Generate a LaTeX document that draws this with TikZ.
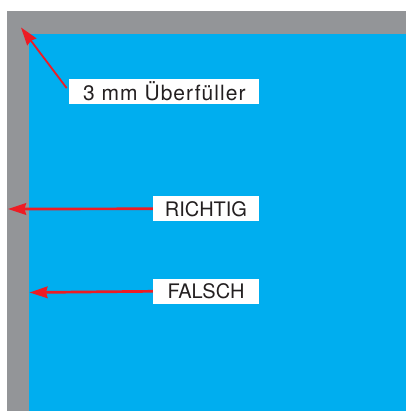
\documentclass[tikz,border=0pt]{standalone}
\usepackage{fontspec}
\setmainfont{TeX Gyre Heros}
\usetikzlibrary{arrows.meta}
\definecolor{falzgrau}{HTML}{939598}
\definecolor{cyanblau}{HTML}{00AEEF}
\definecolor{pfeilrot}{HTML}{ED1C24}
\definecolor{schrift}{HTML}{231F20}
\tikzset{
  lbl/.style={fill=white,text=schrift,inner sep=0pt,minimum height=25pt,
    font=\fontsize{20}{24}\selectfont},
  pfeil/.style={draw=pfeilrot,line width=2.7pt,
    -{Stealth[length=18pt,width=11.5pt,inset=1.5pt]}},
}
\begin{document}
\begin{tikzpicture}[x=1pt,y=-1pt]
\useasboundingbox (0,0) rectangle (406,411);
\fill[falzgrau] (7,11) rectangle (406,411);
\fill[cyanblau] (29,34) rectangle (406,411);
\node[lbl,minimum width=190pt,font=\fontsize{21}{24}\selectfont] (ueber) at (164.3,91.3)
  {\addfontfeature{LetterSpace=5}3 mm Überfüller};
\node[lbl,minimum width=106pt] (richtig) at (206,208.8) {RICHTIG};
\node[lbl,minimum width=106pt] (falsch) at (206,291.3) {FALSCH};
\coordinate (ecke) at (21,27.5);
\coordinate (aussen) at (8,209);
\coordinate (innen) at (29.5,292.5);
\draw[pfeil,line width=1.8pt,shorten <=4pt] (ueber.west) -- (ecke);
\draw[pfeil] (richtig.west) -- (aussen);
\draw[pfeil] (falsch.west) -- (innen);
\end{tikzpicture}
\end{document}
